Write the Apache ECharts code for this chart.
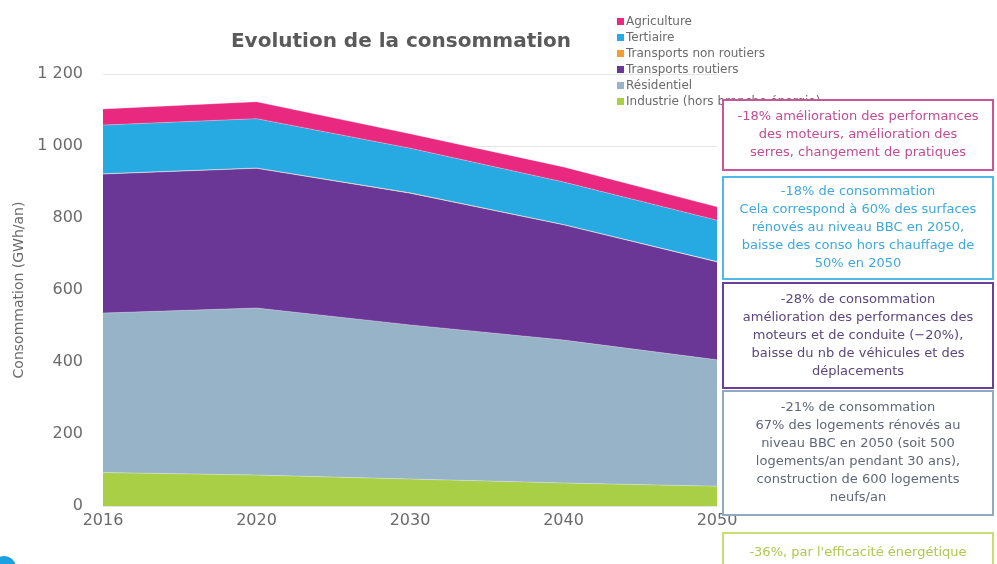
<!DOCTYPE html>
<html>
<head>
<meta charset="utf-8">
<script src="https://cdn.jsdelivr.net/npm/echarts@6/dist/echarts.min.js"></script>
<style>html,body{margin:0;padding:0;background:#fff}#c{width:997px;height:564px}</style>
</head>
<body>
<div id="c"></div>
<script>
var years = ['2016', '2020', '2030', '2040', '2050'];
var industrie = [93, 86, 75, 64, 55];
var residentiel = [443, 464, 428, 397, 351];
var transportsRoutiers = [386, 388, 366, 320, 272];
var transportsNonRoutiers = [1, 1, 1, 1, 1];
var tertiaire = [135, 137, 124, 118, 115];
var agriculture = [45, 47, 40, 42, 37];
var yTicks = [0, 200, 400, 600, 800, 1000, 1200];

var legendOrder = ['Agriculture', 'Tertiaire', 'Transports non routiers', 'Transports routiers', 'Résidentiel', 'Industrie (hors branche énergie)'];

var boxes = [
  {y: 100, h: 70, stroke: '#c9559b', color: '#c24c93',
   text: '-18% amélioration des performances\ndes moteurs, amélioration des\nserres, changement de pratiques'},
  {y: 177, h: 102, stroke: '#52b9e6', color: '#3ea8da',
   text: '-18% de consommation\nCela correspond à 60% des surfaces\nrénovés au niveau BBC en 2050,\nbaisse des conso hors chauffage de\n50% en 2050'},
  {y: 283, h: 105, stroke: '#6b3f98', color: '#5b477c',
   text: '-28% de consommation\namélioration des performances des\nmoteurs et de conduite (−20%),\nbaisse du nb de véhicules et des\ndéplacements'},
  {y: 391, h: 124, stroke: '#8fa9c2', color: '#5f6778',
   text: '-21% de consommation\n67% des logements rénovés au\nniveau BBC en 2050 (soit 500\nlogements/an pendant 30 ans),\nconstruction de 600 logements\nneufs/an'},
  {y: 533, h: 40, stroke: '#c8dc78', color: '#afc84e',
   text: '-36%, par l\'efficacité énergétique'}
];

var FONT = 'DejaVu Sans';
var chart = echarts.init(document.getElementById('c'));

function area(name, data, color) {
  return {
    name: name, type: 'line', stack: 'total', data: data,
    showSymbol: false, symbol: 'none',
    lineStyle: {width: 0.6, color: 'rgba(255,255,255,0.5)'},
    areaStyle: {color: color, opacity: 1},
    itemStyle: {color: color},
    emphasis: {disabled: true}
  };
}

var graphics = [];
boxes.forEach(function (b) {
  graphics.push({
    type: 'rect', silent: true, z: 10,
    shape: {x: 723, y: b.y, width: 270, height: b.h},
    style: {fill: '#fff', stroke: b.stroke, lineWidth: 2}
  });
  graphics.push({
    type: 'text', silent: true, z: 11,
    x: 858, y: b.y + b.h / 2,
    style: {
      text: b.text, fill: b.color, font: '13px "' + FONT + '"',
      align: 'center', verticalAlign: 'middle', lineHeight: 18
    }
  });
});
graphics.push({
  type: 'circle', silent: true, z: 10,
  shape: {cx: 4, cy: 568, r: 12},
  style: {fill: '#1ba1e2'}
});

chart.setOption({
  animation: false,
  backgroundColor: '#fff',
  textStyle: {fontFamily: FONT},
  title: {
    text: 'Evolution de la consommation',
    left: 396, top: 27, textAlign: 'center',
    textStyle: {fontFamily: FONT, fontSize: 20, fontWeight: 'bold', color: '#5a5a5a'}
  },
  legend: {
    orient: 'vertical', left: 612, top: 10,
    data: legendOrder,
    itemWidth: 7, itemHeight: 7, itemGap: 3,
    icon: 'rect',
    textStyle: {fontFamily: FONT, fontSize: 12, color: '#6a6a6a', padding: [0, 0, 0, -3], lineHeight: 13},
    selectedMode: false
  },
  grid: {left: 103, right: 280, top: 74, bottom: 58},
  xAxis: {
    type: 'category', data: years, boundaryGap: false,
    axisLine: {show: true, lineStyle: {color: '#e3e3e3'}},
    axisTick: {show: false},
    axisLabel: {fontFamily: FONT, fontSize: 16, color: '#6a6a6a', margin: 7}
  },
  yAxis: {
    type: 'value', min: 0, max: 1200, interval: 200,
    name: 'Consommation (GWh/an)', nameLocation: 'middle', nameGap: 68,
    nameTextStyle: {fontFamily: FONT, fontSize: 14, color: '#6a6a6a'},
    axisLine: {show: false}, axisTick: {show: false},
    splitLine: {lineStyle: {color: '#e6e6e6'}},
    axisLabel: {
      fontFamily: FONT, fontSize: 16, color: '#6a6a6a', margin: 20,
      formatter: function (v) { return yTicks.indexOf(v) >= 0 ? String(v).replace(/\B(?=(\d{3})+(?!\d))/g, ' ') : ''; }
    }
  },
  series: [
    area('Industrie (hors branche énergie)', industrie, '#a8cf45'),
    area('Résidentiel', residentiel, '#96b3c8'),
    area('Transports routiers', transportsRoutiers, '#6a3796'),
    area('Transports non routiers', transportsNonRoutiers, '#f39c34'),
    area('Tertiaire', tertiaire, '#27a9e1'),
    area('Agriculture', agriculture, '#e8297f')
  ],
  graphic: graphics
});
</script>
</body>
</html>
